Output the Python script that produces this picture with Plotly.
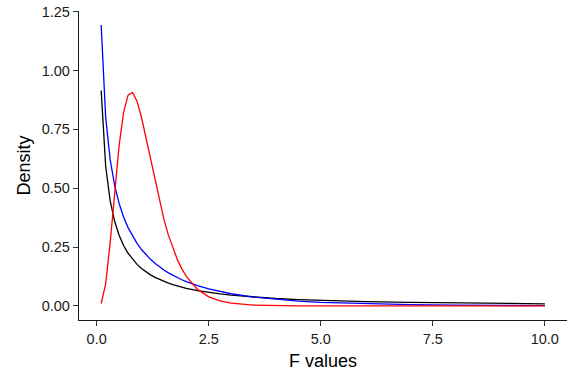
import plotly.graph_objects as go

# F values (x) shared by the three density curves
f_values = [0.1, 0.2, 0.3, 0.4, 0.5, 0.6, 0.7, 0.8, 0.9, 1.0,
            1.1, 1.2, 1.3, 1.4, 1.5, 1.6, 1.7, 1.8, 1.9, 2.0,
            2.25, 2.5, 2.75, 3.0, 3.5, 4.0, 4.5, 5.0, 6.0, 7.0, 8.0, 9.0, 10.0]

# black curve
density_black = [0.9150, 0.5931, 0.4470, 0.3595, 0.3001, 0.2568, 0.2238, 0.1977, 0.1766, 0.1592,
                 0.1445, 0.1321, 0.1214, 0.1121, 0.1040, 0.0968, 0.0904, 0.0847, 0.0796, 0.0750,
                 0.0653, 0.0575, 0.0512, 0.0459, 0.0378, 0.0318, 0.0273, 0.0237, 0.0186, 0.0150,
                 0.0125, 0.0106, 0.0092]

# blue curve
density_blue = [1.1929, 0.8017, 0.6222, 0.5122, 0.4356, 0.3781, 0.3328, 0.2961, 0.2655, 0.2396,
                0.2173, 0.1979, 0.1809, 0.1659, 0.1525, 0.1406, 0.1298, 0.1201, 0.1113, 0.1032,
                0.0861, 0.0724, 0.0611, 0.0519, 0.0378, 0.0279, 0.0208, 0.0156, 0.0090, 0.0053,
                0.0032, 0.0019, 0.0012]

# red curve
density_red = [0.0105, 0.0937, 0.2680, 0.4834, 0.6806, 0.8220, 0.8952, 0.9065, 0.8695, 0.8003,
               0.7138, 0.6206, 0.5289, 0.4437, 0.3673, 0.3008, 0.2441, 0.1967, 0.1576, 0.1256,
               0.0703, 0.0387, 0.0212, 0.0116, 0.0035, 0.0011, 0.0003, 0.0001, 0.0, 0.0,
               0.0, 0.0, 0.0]

x_ticks = [0.0, 2.5, 5.0, 7.5, 10.0]
x_tick_labels = ["0.0", "2.5", "5.0", "7.5", "10.0"]
y_ticks = [0.0, 0.25, 0.5, 0.75, 1.0, 1.25]
y_tick_labels = ["0.00", "0.25", "0.50", "0.75", "1.00", "1.25"]

FONT = "Liberation Sans, Arial, Helvetica, sans-serif"
W, H = 576, 384
ML, MR, MT, MB = 79, 9, 11, 64

fig = go.Figure()
for ys, col in [(density_black, "black"), (density_blue, "#0000FF"), (density_red, "#FF0000")]:
    fig.add_trace(go.Scatter(x=f_values, y=ys, mode="lines",
                             line=dict(color=col, width=1.3), showlegend=False,
                             hoverinfo="skip"))

axis_common = dict(
    showgrid=False, zeroline=False, showline=True, linecolor="#1a1a1a", linewidth=1.3,
    ticks="outside", ticklen=5, tickcolor="#333333", tickwidth=1.2,
    tickfont=dict(size=14.5, color="#1a1a1a", family=FONT),
    automargin=False,
)

fig.update_layout(
    width=W, height=H,
    margin=dict(l=ML, r=MR, t=MT, b=MB, autoexpand=False),
    paper_bgcolor="white", plot_bgcolor="white",
    font=dict(family=FONT, color="black"),
    annotations=[
        dict(text="F values", xref="paper", yref="paper", x=0.5, xanchor="center",
             y=-(361 - (H - MB)) / (H - MT - MB), yanchor="middle", showarrow=False,
             font=dict(size=18, color="black", family=FONT)),
        dict(text="Density", xref="paper", yref="paper",
             x=-(ML - 23) / (W - ML - MR), xanchor="center",
             y=0.5, yanchor="middle", textangle=-90, showarrow=False,
             font=dict(size=18, color="black", family=FONT)),
    ],
)
fig.update_xaxes(range=[-0.395, 10.495], tickvals=x_ticks, ticktext=x_tick_labels, **axis_common)
fig.update_yaxes(range=[-0.0596, 1.2525], tickvals=y_ticks, ticktext=y_tick_labels, **axis_common)

fig.write_html(
    "out.html",
    config={"displayModeBar": False},
    post_script="document.body.style.margin='0';document.body.style.padding='0';",
)
